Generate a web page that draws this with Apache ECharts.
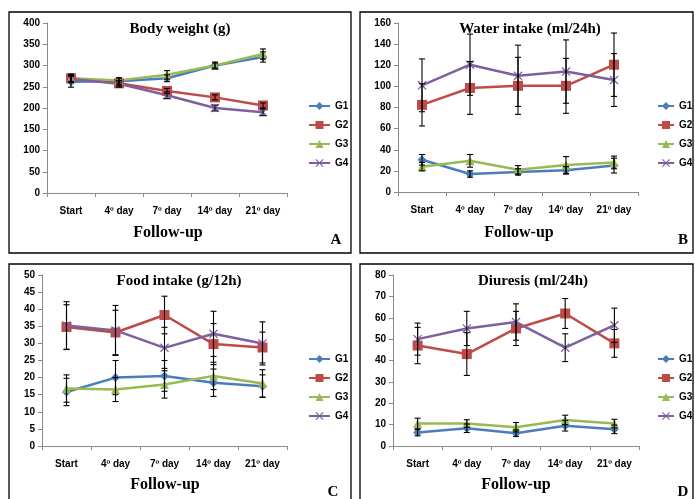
<!DOCTYPE html>
<html>
<head>
<meta charset="utf-8">
<script src="https://cdn.jsdelivr.net/npm/echarts@6/dist/echarts.min.js"></script>
<style>
  html, body { margin: 0; padding: 0; background: #fff; }
  #main { width: 695px; height: 499px; }
</style>
</head>
<body>
<div id="main"></div>
<script>
  // shared categories and groups
  var categories = ['Start', '4º day', '7º day', '14º day', '21º day'];
  var groups = ['G1', 'G2', 'G3', 'G4'];

  // A: body weight (g) - means and error bars
  var bwG1 = [262, 263, 270, 300, 320];
  var bwG2 = [270, 258, 240, 225, 206];
  var bwG3 = [270, 265, 278, 300, 327];
  var bwG4 = [268, 257, 230, 200, 190];
  var bwErrG1 = [13, 8, 8, 8, 12];
  var bwErrG2 = [10, 6, 6, 6, 6];
  var bwErrG3 = [8, 6, 10, 6, 12];
  var bwErrG4 = [8, 8, 8, 7, 8];

  // B: water intake (ml/24h)
  var wiG1 = [30.5, 17, 19, 20.5, 25];
  var wiG2 = [82.5, 98.5, 100.5, 100.5, 120.5];
  var wiG3 = [24, 29.5, 21, 25.5, 28];
  var wiG4 = [101, 120.5, 110, 114, 106];
  var wiErrG1 = [5, 3, 3, 3.5, 7];
  var wiErrG2 = [20, 25, 27, 26, 30];
  var wiErrG3 = [4, 6, 4, 8, 6];
  var wiErrG4 = [25, 29, 29, 30, 25];

  // C: food intake (g/12h)
  var fiG1 = [15.8, 20, 20.5, 18.5, 17.5];
  var fiG2 = [34.8, 33.2, 38.3, 29.8, 28.8];
  var fiG3 = [16.8, 16.5, 18, 20.5, 18.3];
  var fiG4 = [35.2, 33.8, 28.7, 32.8, 30];
  var fiErrG1 = [4, 5, 4.5, 4, 3.3];
  var fiErrG2 = [6.5, 6.5, 5.5, 6, 4.5];
  var fiErrG3 = [4, 3.5, 4, 4, 4];
  var fiErrG4 = [7, 7.3, 6, 6.6, 6.3];

  // D: diuresis (ml/24h)
  var diG1 = [6.3, 8.3, 6, 9.5, 7.8];
  var diG2 = [47, 43, 55, 62, 48];
  var diG3 = [10.5, 10.5, 8.8, 12.2, 10.5];
  var diG4 = [50, 55, 58, 46, 56.5];
  var diErrG1 = [1.5, 2, 1.5, 2.5, 2];
  var diErrG2 = [8.5, 10, 8, 7, 6.5];
  var diErrG3 = [2.5, 1.8, 2.2, 2.2, 2];
  var diErrG4 = [7.5, 8, 8.5, 6.5, 8];

  var colors = ['#4A7EBB', '#BE4B48', '#98B954', '#7D60A0'];
  var symbols = [
    'diamond',
    'rect',
    'triangle',
    'path://M0,1 L1,0 L5,4 L9,0 L10,1 L6,5 L10,9 L9,10 L5,6 L1,10 L0,9 L4,5 Z'
  ];
  var symbolSizes = [9, 10, 9, 9];

  var panels = [
    { title: 'Body weight (g)', letter: 'A', max: 400, interval: 50,
      means: [bwG1, bwG2, bwG3, bwG4], errs: [bwErrG1, bwErrG2, bwErrG3, bwErrG4],
      box: [9, 12, 342, 241], grid: [47, 23, 240, 170], legend: [303, 96], legendW: 21,
      titleX: 180, follow: 168, letterX: 336 },
    { title: 'Water intake (ml/24h)', letter: 'B', max: 160, interval: 20,
      means: [wiG1, wiG2, wiG3, wiG4], errs: [wiErrG1, wiErrG2, wiErrG3, wiErrG4],
      box: [360, 12, 333, 241], grid: [398, 23, 240, 169], legend: [652, 96], legendW: 16,
      titleX: 530, follow: 519, letterX: 683 },
    { title: 'Food intake (g/12h)', letter: 'C', max: 50, interval: 5,
      means: [fiG1, fiG2, fiG3, fiG4], errs: [fiErrG1, fiErrG2, fiErrG3, fiErrG4],
      box: [9, 264, 342, 240], grid: [42, 275, 245, 171], legend: [303, 349], legendW: 21,
      titleX: 179, follow: 165, letterX: 333 },
    { title: 'Diuresis (ml/24h)', letter: 'D', max: 80, interval: 10,
      means: [diG1, diG2, diG3, diG4], errs: [diErrG1, diErrG2, diErrG3, diErrG4],
      box: [360, 264, 333, 240], grid: [393, 275, 246, 171], legend: [652, 349], legendW: 16,
      titleX: 533, follow: 516, letterX: 683 }
  ];

  var option = {
    animation: false,
    backgroundColor: '#fff',
    grid: [], xAxis: [], yAxis: [], legend: [], series: [], graphic: []
  };

  var axisFont = { fontFamily: 'Liberation Sans', fontWeight: 'bold', fontSize: 10, color: '#000' };
  var serifBold = 'bold 15px "Liberation Serif"';

  function label(text, x, y, font) {
    return {
      type: 'text', silent: true, x: x, y: y,
      style: { text: text, font: font, fill: '#000', align: 'center', verticalAlign: 'middle' }
    };
  }

  panels.forEach(function (p, pi) {
    var top = p.box[1];
    option.graphic.push({
      type: 'rect', silent: true, z: -1,
      shape: { x: p.box[0], y: p.box[1], width: p.box[2], height: p.box[3] },
      style: { fill: 'none', stroke: '#000', lineWidth: 1.3 }
    });
    option.graphic.push(label(p.title, p.titleX, top + 17, serifBold));
    option.graphic.push(label('Follow-up', p.follow, top + 221, 'bold 16px "Liberation Serif"'));
    option.graphic.push(label(p.letter, p.letterX, top + 228, serifBold));

    option.grid.push({ left: p.grid[0], top: p.grid[1], width: p.grid[2], height: p.grid[3] });
    option.xAxis.push({
      type: 'category', gridIndex: pi, data: categories, boundaryGap: true,
      axisLine: { lineStyle: { color: '#8a8a8a', width: 1 } },
      axisTick: { show: true, length: 4, lineStyle: { color: '#8a8a8a' } },
      axisLabel: Object.assign({ margin: 13, interval: 0 }, axisFont)
    });
    option.yAxis.push({
      type: 'value', gridIndex: pi, min: 0, max: p.max, interval: p.interval,
      axisLine: { show: true, lineStyle: { color: '#8a8a8a', width: 1 } },
      axisTick: { show: true, length: 4, lineStyle: { color: '#8a8a8a' } },
      splitLine: { show: false },
      axisLabel: Object.assign({ margin: 7 }, axisFont)
    });
    option.legend.push({
      data: groups, orient: 'vertical', left: p.legend[0], top: p.legend[1],
      itemWidth: p.legendW, itemHeight: 10, itemGap: 9, selectedMode: false,
      textStyle: { fontFamily: 'Liberation Sans', fontWeight: 'bold', fontSize: 10, color: '#000' }
    });

    groups.forEach(function (g, gi) {
      var means = p.means[gi];
      var errs = p.errs[gi];
      option.series.push({
        name: g, type: 'line', xAxisIndex: pi, yAxisIndex: pi, data: means,
        symbol: symbols[gi], symbolSize: symbolSizes[gi], z: 3,
        lineStyle: { color: colors[gi], width: 2.5 },
        itemStyle: { color: colors[gi] }
      });
      option.series.push({
        name: g + ' error', type: 'custom', xAxisIndex: pi, yAxisIndex: pi, z: 4,
        data: means.map(function (m, i) { return [i, m - errs[i], m + errs[i]]; }),
        encode: { x: 0, y: [1, 2] },
        renderItem: function (params, api) {
          var lo = api.coord([api.value(0), api.value(1)]);
          var hi = api.coord([api.value(0), api.value(2)]);
          var w = 3;
          var st = { stroke: '#000', lineWidth: 1.1 };
          return {
            type: 'group',
            children: [
              { type: 'line', shape: { x1: lo[0], y1: lo[1], x2: hi[0], y2: hi[1] }, style: st },
              { type: 'line', shape: { x1: lo[0] - w, y1: lo[1], x2: lo[0] + w, y2: lo[1] }, style: st },
              { type: 'line', shape: { x1: hi[0] - w, y1: hi[1], x2: hi[0] + w, y2: hi[1] }, style: st }
            ]
          };
        }
      });
    });
  });

  var myChart = echarts.init(document.getElementById('main'));
  myChart.setOption(option);
</script>
</body>
</html>
